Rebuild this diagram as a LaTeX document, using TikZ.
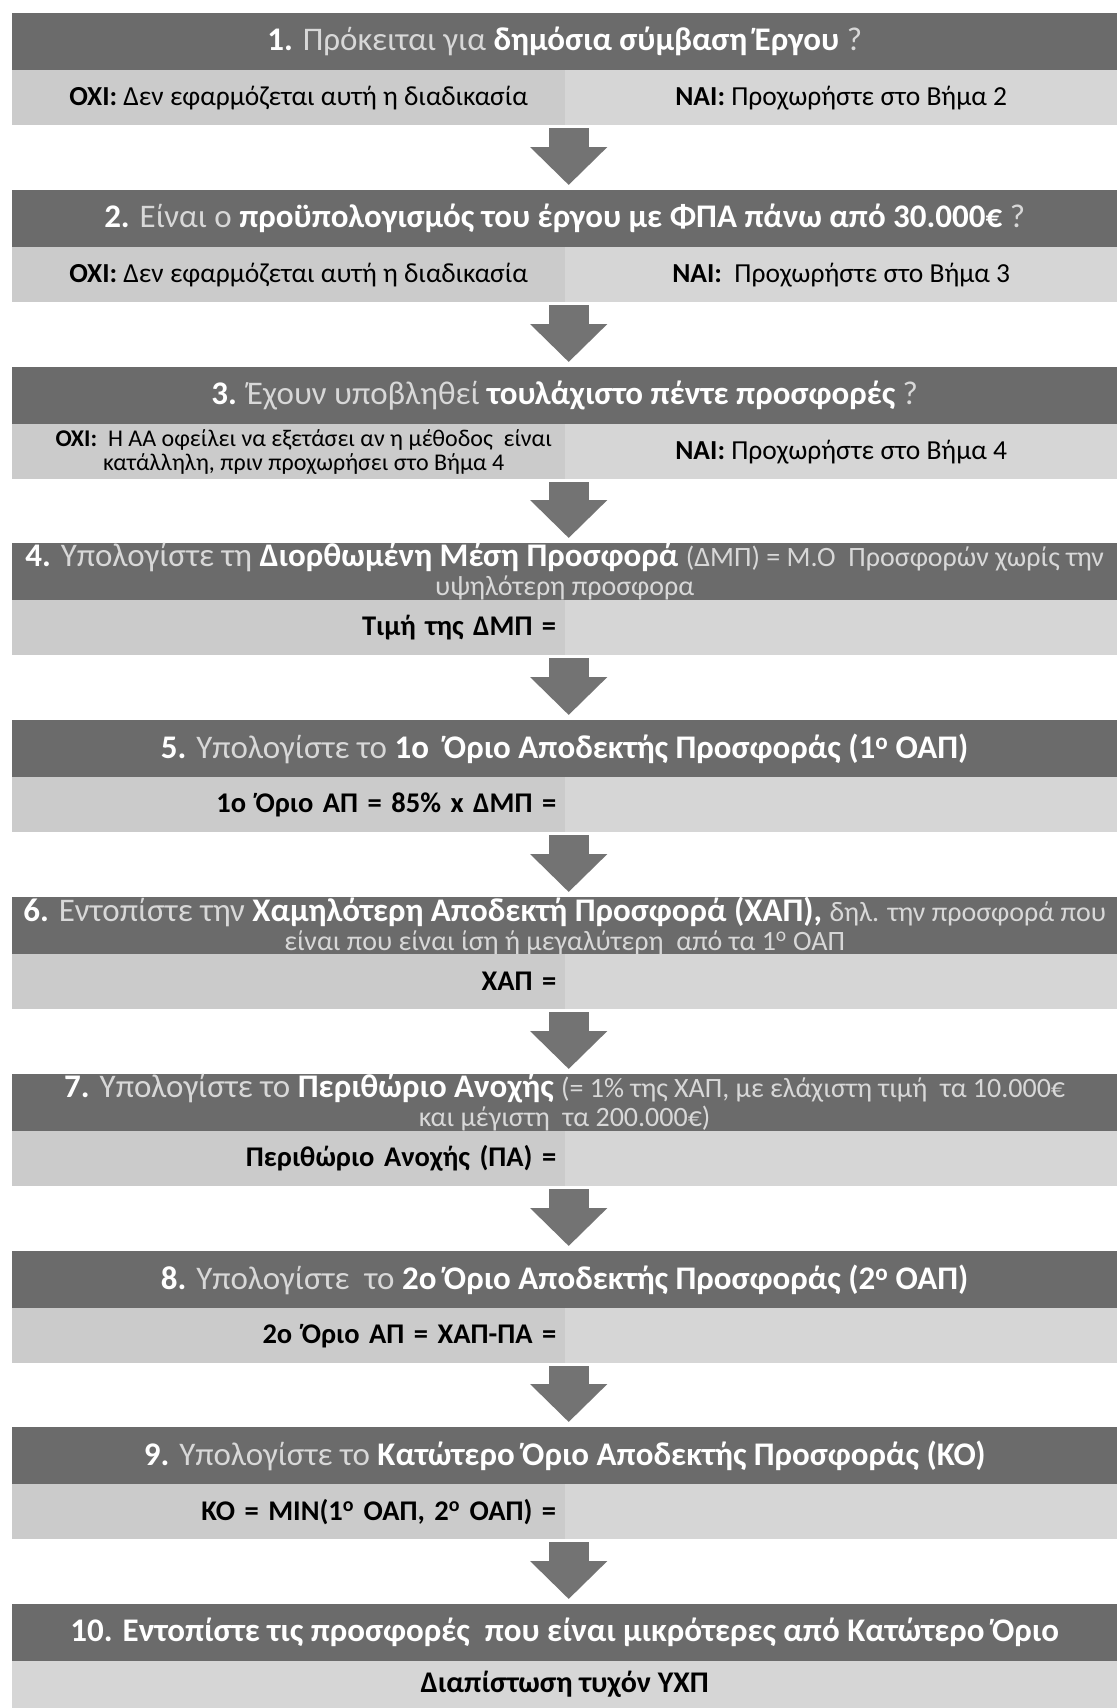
\documentclass[tikz,border=0pt]{standalone}
\usepackage{fontspec}
\setmainfont{Carlito}
\usetikzlibrary{arrows.meta}
\definecolor{hdr}{HTML}{6B6B6B}
\definecolor{subL}{HTML}{CBCBCB}
\definecolor{subR}{HTML}{D6D6D6}
\definecolor{arr}{HTML}{737373}
\definecolor{hlt}{HTML}{D8D8D8}
\newcommand\hb[1]{{\bfseries\color{white}#1}}
\newcommand\hsm[1]{{\fontsize{28}{29}\selectfont #1}}
\begin{document}
\begin{tikzpicture}[x=1pt,y=-1pt,
  hdrbox/.style={fill=hdr, text=hlt, minimum width=1105pt, minimum height=57pt,
    inner sep=0pt, anchor=north west, align=center, font=\fontsize{33}{30}\selectfont},
  subbox/.style={fill=subR, minimum width=1105pt, minimum height=55pt,
    inner sep=0pt, anchor=north west},
  subleft/.style={fill=subL, minimum width=553pt, minimum height=55pt,
    inner sep=0pt, anchor=north west, align=center, font=\fontsize{27.5}{29}\selectfont},
  subright/.style={minimum width=552pt, minimum height=55pt,
    inner sep=0pt, anchor=north east, align=center, font=\fontsize{27.5}{29}\selectfont},
  subval/.style={fill=subL, text width=535pt, inner xsep=9pt, inner ysep=0pt,
    minimum height=55pt, anchor=north west, align=right, font=\fontsize{28.5}{30}\selectfont\bfseries},
  flow/.style={draw=arr, line width=40pt, -{Triangle[length=38pt,width=75pt]},
    shorten <=3pt, shorten >=5pt}
]
\useasboundingbox (0,0) rectangle (1117,1708);
\fill[white] (0,0) rectangle (1117,1708);

% Step 1
\node[hdrbox] (h1) at (12,13) {\hb{1.} Πρόκειται για \hb{δημόσια σύμβαση Έργου} ?};
\node[subbox] (s1) at (12,70) {};
\node[subleft] (s1l) at (s1.north west) {\hspace*{20pt}\textbf{ΌΧΙ:} Δεν εφαρμόζεται αυτή η διαδικασία};
\node[subright] (s1r) at (s1.north east) {\textbf{ΝΑΙ:} Προχωρήστε στο Βήμα 2};

% Step 2
\node[hdrbox] (h2) at (12,190) {\hb{2.} Είναι ο \hb{προϋπολογισμός του έργου με ΦΠΑ πάνω από 30.000€} ?};
\node[subbox] (s2) at (12,247) {};
\node[subleft] (s2l) at (s2.north west) {\hspace*{20pt}\textbf{ΌΧΙ:} Δεν εφαρμόζεται αυτή η διαδικασία};
\node[subright] (s2r) at (s2.north east) {\textbf{ΝΑΙ:}\ \ Προχωρήστε στο Βήμα 3};

% Step 3
\node[hdrbox] (h3) at (12,367) {\hb{3.} Έχουν υποβληθεί \hb{τουλάχιστο πέντε προσφορές} ?};
\node[subbox] (s3) at (12,424) {};
\node[subleft, font=\fontsize{24}{24}\selectfont] (s3l) at (s3.north west) {\hspace*{30pt}\textbf{ΌΧΙ:}\ \ Η ΑΑ οφείλει να εξετάσει αν η μέθοδος\ \ είναι\\\hspace*{30pt}κατάλληλη, πριν προχωρήσει στο Βήμα 4};
\node[subright] (s3r) at (s3.north east) {\textbf{ΝΑΙ:} Προχωρήστε στο Βήμα 4};

% Step 4
\node[hdrbox] (h4) at (12,543) {\hb{4.} Υπολογίστε τη \hb{Διορθωμένη Μέση Προσφορά} \hsm{(ΔΜΠ) = Μ.Ο \ Προσφορών χωρίς την}\\[-1pt]\hsm{υψηλότερη προσφορα}};
\node[subbox] (s4) at (12,600) {};
\node[subval] (s4l) at (s4.north west) {Τιμή της ΔΜΠ =};

% Step 5
\node[hdrbox] (h5) at (12,720) {\hb{5.} Υπολογίστε το \hb{1ο \ Όριο Αποδεκτής Προσφοράς (1\textsuperscript{ο} ΟΑΠ)}};
\node[subbox] (s5) at (12,777) {};
\node[subval] (s5l) at (s5.north west) {1ο Όριο ΑΠ = 85\% x ΔΜΠ =};

% Step 6
\node[hdrbox] (h6) at (12,897) {\hb{6.} Εντοπίστε την \hb{Χαμηλότερη Αποδεκτή Προσφορά (ΧΑΠ),} \hsm{δηλ. την προσφορά που}\\[-1pt]\hsm{είναι που είναι ίση ή μεγαλύτερη \ από τα 1\textsuperscript{ο} ΟΑΠ}};
\node[subbox] (s6) at (12,954) {};
\node[subval] (s6l) at (s6.north west) {ΧΑΠ =};

% Step 7
\node[hdrbox] (h7) at (12,1074) {\hb{7.} Υπολογίστε το \hb{Περιθώριο Ανοχής} \hsm{(= 1\% της ΧΑΠ, με ελάχιστη τιμή \ τα 10.000€}\\[-1pt]\hsm{και μέγιστη \ τα 200.000€)}};
\node[subbox] (s7) at (12,1131) {};
\node[subval] (s7l) at (s7.north west) {Περιθώριο Ανοχής (ΠΑ) =};

% Step 8
\node[hdrbox] (h8) at (12,1251) {\hb{8.} Υπολογίστε \ το \hb{2ο Όριο Αποδεκτής Προσφοράς (2\textsuperscript{ο} ΟΑΠ)}};
\node[subbox] (s8) at (12,1308) {};
\node[subval] (s8l) at (s8.north west) {2ο Όριο ΑΠ = ΧΑΠ-ΠΑ =};

% Step 9
\node[hdrbox] (h9) at (12,1427) {\hb{9.} Υπολογίστε το \hb{Κατώτερο Όριο Αποδεκτής Προσφοράς (ΚΟ)}};
\node[subbox] (s9) at (12,1484) {};
\node[subval] (s9l) at (s9.north west) {ΚΟ = MIN(1\textsuperscript{ο} ΟΑΠ, 2\textsuperscript{ο} ΟΑΠ) =};

% Step 10
\node[hdrbox] (h10) at (12,1604) {\hb{10. Εντοπίστε τις προσφορές \ που είναι μικρότερες από Κατώτερο Όριο}};
\node[subbox, minimum height=47pt, font=\fontsize{30}{30}\selectfont\bfseries] (s10) at (12,1661) {Διαπίστωση τυχόν ΥΧΠ};

% Arrows
\draw[flow] ([xshift=4pt]s1.south) -- ([xshift=4pt]h2.north);
\draw[flow] ([xshift=4pt]s2.south) -- ([xshift=4pt]h3.north);
\draw[flow] ([xshift=4pt]s3.south) -- ([xshift=4pt]h4.north);
\draw[flow] ([xshift=4pt]s4.south) -- ([xshift=4pt]h5.north);
\draw[flow] ([xshift=4pt]s5.south) -- ([xshift=4pt]h6.north);
\draw[flow] ([xshift=4pt]s6.south) -- ([xshift=4pt]h7.north);
\draw[flow] ([xshift=4pt]s7.south) -- ([xshift=4pt]h8.north);
\draw[flow] ([xshift=4pt]s8.south) -- ([xshift=4pt]h9.north);
\draw[flow] ([xshift=4pt]s9.south) -- ([xshift=4pt]h10.north);
\end{tikzpicture}
\end{document}
